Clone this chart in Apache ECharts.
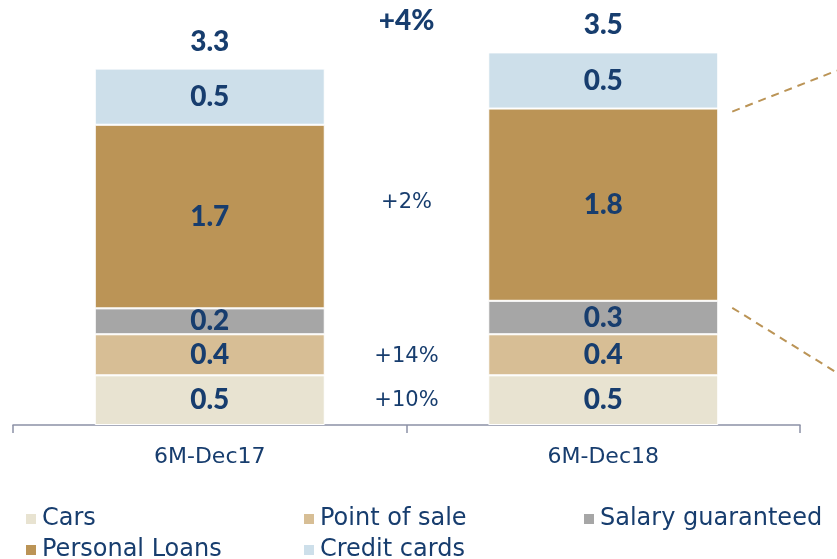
<!DOCTYPE html>
<html>
<head>
<meta charset="utf-8">
<script src="https://cdn.jsdelivr.net/npm/echarts@6/dist/echarts.min.js"></script>
<style>
  html, body { margin: 0; padding: 0; background: #fff; }
  #chart { width: 837px; height: 559px; }
</style>
</head>
<body>
<div id="chart"></div>
<script>
// periods on the x axis
const categories = ['6M-Dec17', '6M-Dec18']

// segment values (bn)
const cars = [0.46, 0.46]
const pointOfSale = [0.38, 0.38]
const salaryGuaranteed = [0.24, 0.31]
const personalLoans = [1.70, 1.78]
const creditCards = [0.52, 0.52]

// totals as printed above the bars
const totals = ['3.3', '3.5']

// growth notes between the bars
const growthNotes = [
  { text: '+4%', y: 21, bold: true },
  { text: '+2%', y: 203, bold: false },
  { text: '+14%', y: 357, bold: false },
  { text: '+10%', y: 401, bold: false }
]

const navy = '#173d6e'
const boldFont = 'Lato'
const textFont = 'DejaVu Sans'

const seriesDefs = [
  { name: 'Cars', data: cars, color: '#e8e3d1' },
  { name: 'Point of sale', data: pointOfSale, color: '#d7be95' },
  { name: 'Salary guaranteed', data: salaryGuaranteed, color: '#a6a6a6' },
  { name: 'Personal Loans', data: personalLoans, color: '#bb9456' },
  { name: 'Credit cards', data: creditCards, color: '#cddfea' }
]

const series = seriesDefs.map(s => ({
  name: s.name,
  type: 'bar',
  stack: 'total',
  barWidth: 230,
  data: s.data,
  itemStyle: { color: s.color, borderColor: '#fff', borderWidth: 1 },
  label: {
    show: true,
    position: 'inside',
    color: navy,
    fontFamily: boldFont,
    fontWeight: 900,
    fontSize: 28,
    formatter: p => p.value.toFixed(1)
  },
  emphasis: { disabled: true }
}))

// zero-height bar on top of the stack to carry the total label
series.push({
  name: 'total',
  type: 'bar',
  stack: 'total',
  barWidth: 230,
  data: [0, 0],
  itemStyle: { color: 'transparent' },
  label: {
    show: true,
    position: 'top',
    distance: 13,
    color: navy,
    fontFamily: boldFont,
    fontWeight: 900,
    fontSize: 28,
    formatter: p => totals[p.dataIndex]
  }
})

const legendBase = {
  orient: 'vertical',
  top: 502,
  height: 60,
  itemWidth: 12,
  itemHeight: 12,
  itemGap: 7,
  icon: 'rect',
  textStyle: { color: navy, fontFamily: textFont, fontSize: 24 },
  selectedMode: false
}

const option = {
  animation: false,
  grid: { left: 13, right: 37, top: 47, bottom: 134 },
  xAxis: {
    type: 'category',
    data: categories,
    axisLine: { lineStyle: { color: '#8c91a6', width: 1.5 } },
    axisTick: { show: true, length: 8, lineStyle: { color: '#8c91a6', width: 1.5 } },
    axisLabel: { color: navy, fontFamily: textFont, fontSize: 22, margin: 21 }
  },
  yAxis: { type: 'value', min: 0, max: 3.5, show: false },
  legend: [
    Object.assign({}, legendBase, { left: 19, data: ['Cars', 'Personal Loans'] }),
    Object.assign({}, legendBase, { left: 297, data: ['Point of sale', 'Credit cards'] }),
    Object.assign({}, legendBase, { left: 577, data: ['Salary guaranteed'] })
  ],
  series: series
}

const chart = echarts.init(document.getElementById('chart'))
chart.setOption(option)

// growth notes + dashed connectors to the right-hand breakdown
const c0 = chart.convertToPixel({ gridIndex: 0 }, [0, 0])[0]
const c1 = chart.convertToPixel({ gridIndex: 0 }, [1, 0])[0]
const midX = (c0 + c1) / 2
const barRight = c1 + 115
const plTop = chart.convertToPixel({ gridIndex: 0 }, [1, cars[1] + pointOfSale[1] + salaryGuaranteed[1] + personalLoans[1]])[1]
const plBottom = chart.convertToPixel({ gridIndex: 0 }, [1, cars[1] + pointOfSale[1] + salaryGuaranteed[1]])[1]

const graphic = growthNotes.map(n => ({
  type: 'text',
  x: midX,
  y: n.y,
  style: {
    text: n.text,
    fill: navy,
    font: n.bold ? '900 28px ' + boldFont : '21px ' + textFont,
    align: 'center',
    verticalAlign: 'middle'
  }
}))
graphic.push(
  {
    type: 'line',
    shape: { x1: barRight + 14, y1: plTop + 3, x2: 837, y2: plTop - 38 },
    style: { stroke: '#bb9456', lineWidth: 2, lineDash: [8, 6] }
  },
  {
    type: 'line',
    shape: { x1: barRight + 14, y1: plBottom + 7, x2: 837, y2: plBottom + 72 },
    style: { stroke: '#bb9456', lineWidth: 2, lineDash: [8, 6] }
  }
)
chart.setOption({ graphic: graphic })

window.addEventListener('resize', function() {
  chart.resize()
})
</script>
</body>
</html>
